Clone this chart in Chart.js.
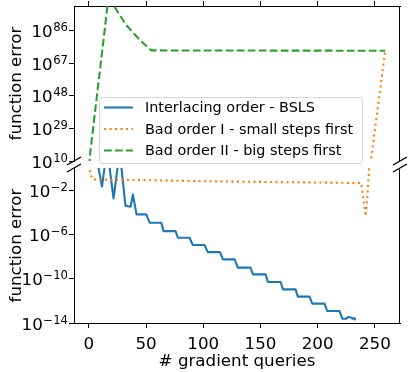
<!DOCTYPE html>
<html>
<head>
<meta charset="utf-8">
<script src="https://cdn.jsdelivr.net/npm/chart.js@4.4.1/dist/chart.umd.min.js"></script>
<style>
  html, body { margin: 0; padding: 0; background: #fff; }
  #wrap { position: relative; width: 410px; height: 372px; }
  #wrap canvas { position: absolute; left: 0; top: 0; }
</style>
</head>
<body>
<div id="wrap">
  <canvas id="bottomChart" width="410" height="372"></canvas>
  <canvas id="topChart" width="410" height="372"></canvas>
</div>
<script>
// legend names
const seriesNames = [
  'Interlacing order - BSLS',
  'Bad order I - small steps first',
  'Bad order II - big steps first'
];

// x = # gradient queries, y = log10(function error)
const bslsX = [0, 4, 11.5, 16, 21.6, 27, 32, 36.5, 38.5, 41.7, 50.2, 53.1, 63.3, 65.3, 75.8, 77.8, 88.0, 90.9,
  101.1, 104.0, 114.7, 117.1, 127.4, 130.2, 141.3, 143.4, 154.5, 156.5, 167.6, 169.6, 180.7, 182.7, 192.9,
  195.3, 206.0, 208.4, 219.1, 221.5, 225, 226.5, 229, 230.5, 232, 233];
const bslsLogErr = [0.3, 2.5, -1.67, 1.75, -2.75, 1.5, -3.4, -3.5, -2.39, -4.19, -4.19, -4.94, -4.94, -5.70, -5.70,
  -6.30, -6.30, -6.96, -6.96, -7.60, -7.60, -8.25, -8.25, -9.00, -9.00, -9.61, -9.61, -10.30, -10.30, -10.96,
  -10.96, -11.62, -11.62, -12.25, -12.25, -12.92, -12.92, -13.61, -13.61, -13.45, -13.5, -13.62, -13.55, -13.75];

const smallFirstX = [0, 1, 2, 3.5, 50, 97, 170, 238, 242, 243.5, 245, 246.5, 259];
const smallFirstLogErr = [0.3, -0.3, -0.7, -1.03, -1.1, -1.19, -1.28, -1.35, -4.35, -2.5, 0.0, 10, 74.3];

const bigFirstX = [0, 1, 17.5, 22.2, 26, 32.7, 40, 47.2, 54.5, 259];
const bigFirstLogErr = [0.3, 13.5, 107.2, 100.4, 96.1, 89.3, 83.9, 79.0, 74.5, 74.3];

// axes
const xTicks = [0, 50, 100, 150, 200, 250];
const topTickExp = [10, 29, 48, 67, 86];
const bottomTickExp = [-14, -10, -6, -2];
const xMin = -12.95, xMax = 271.95;

Chart.defaults.font.family = '"DejaVu Sans"';
Chart.defaults.font.size = 16.7;
Chart.defaults.color = '#000';

const toPoints = (xs, ls) => xs.map((x, i) => ({ x: x, y: Math.pow(10, ls[i]) }));

function makeDatasets() {
  return [
    { label: seriesNames[0], data: toPoints(bslsX, bslsLogErr), borderColor: '#1f77b4',
      borderWidth: 2.1, borderDash: [], order: 3, clip: 0 },
    { label: seriesNames[1], data: toPoints(smallFirstX, smallFirstLogErr), borderColor: '#ff7f0e',
      borderWidth: 2.1, borderDash: [2.1, 3.4], order: 2, clip: 0 },
    { label: seriesNames[2], data: toPoints(bigFirstX, bigFirstLogErr), borderColor: '#2ca02c',
      borderWidth: 2.1, borderDash: [7.7, 3.3], order: 1, clip: 0 }
  ];
}

const tickGrid = { drawOnChartArea: false, drawTicks: true, tickLength: 5, tickColor: '#000', tickWidth: 1 };
const spine = { display: true, color: '#000', width: 1 };

function line(ctx, x1, y1, x2, y2) {
  ctx.beginPath(); ctx.moveTo(x1, y1); ctx.lineTo(x2, y2); ctx.stroke();
}

// the // marks where the axis is cut
function breakMark(ctx, x, y) {
  ctx.lineWidth = 1.4;
  ctx.strokeStyle = '#000';
  line(ctx, x - 7, y + 4, x + 7, y - 4);
}

// 10^n labels with a real superscript
function powerLabels(chart, exps) {
  const ctx = chart.ctx, ys = chart.scales.y;
  const xRight = 68;
  ctx.fillStyle = '#000';
  ctx.textAlign = 'right';
  ctx.textBaseline = 'alphabetic';
  exps.forEach(e => {
    const py = ys.getPixelForValue(Math.pow(10, e));
    const sup = (e < 0 ? '\u2212' : '') + Math.abs(e);
    ctx.font = '11.7px "DejaVu Sans"';
    const w = ctx.measureText(sup).width;
    ctx.fillText(sup, xRight, py + 0.5);
    ctx.font = '16.7px "DejaVu Sans"';
    ctx.fillText('10', xRight - w - 0.5, py + 6.5);
  });
}

function drawLegend(chart) {
  const ctx = chart.ctx;
  const l = 99.5, t = 97.5, r = 362.5, b = 163.5, rad = 3;
  ctx.beginPath();
  ctx.moveTo(l + rad, t);
  ctx.arcTo(r, t, r, b, rad);
  ctx.arcTo(r, b, l, b, rad);
  ctx.arcTo(l, b, l, t, rad);
  ctx.arcTo(l, t, r, t, rad);
  ctx.closePath();
  ctx.fillStyle = 'rgba(255,255,255,0.8)';
  ctx.fill();
  ctx.strokeStyle = 'rgba(204,204,204,0.8)';
  ctx.lineWidth = 1;
  ctx.stroke();

  chart.data.datasets.forEach((ds, i) => {
    const cy = 107.5 + i * 21.5;
    ctx.save();
    ctx.setLineDash(ds.borderDash);
    ctx.lineCap = 'butt';
    ctx.strokeStyle = ds.borderColor;
    ctx.lineWidth = ds.borderWidth;
    line(ctx, 104, cy, 133, cy);
    ctx.restore();
    ctx.font = '14.4px "DejaVu Sans"';
    ctx.fillStyle = '#000';
    ctx.textAlign = 'left';
    ctx.textBaseline = 'alphabetic';
    ctx.fillText(ds.label, 145, cy + 4.8);
  });
}

const topDecor = {
  id: 'topDecor',
  afterDraw(chart) {
    const ctx = chart.ctx, a = chart.chartArea;
    ctx.save();
    ctx.strokeStyle = '#000';
    ctx.lineWidth = 1;
    line(ctx, a.right - 0.5, a.top, a.right - 0.5, a.bottom);
    breakMark(ctx, a.left, a.bottom);
    breakMark(ctx, a.right, a.bottom);
    powerLabels(chart, topTickExp);
    drawLegend(chart);
    ctx.restore();
  }
};

const bottomDecor = {
  id: 'bottomDecor',
  afterDraw(chart) {
    const ctx = chart.ctx, a = chart.chartArea;
    ctx.save();
    ctx.strokeStyle = '#000';
    ctx.lineWidth = 1;
    line(ctx, a.right - 0.5, a.top, a.right - 0.5, a.bottom);
    breakMark(ctx, a.left, a.top);
    breakMark(ctx, a.right, a.top);
    powerLabels(chart, bottomTickExp);
    ctx.restore();
  }
};

function xScale(pos, height, showLabels) {
  return {
    type: 'linear', position: pos, min: xMin, max: xMax,
    afterBuildTicks: s => { s.ticks = xTicks.map(v => ({ value: v })); },
    afterFit: s => { s.height = height; },
    ticks: { display: showLabels, padding: 7, maxRotation: 0, autoSkip: false },
    grid: tickGrid,
    border: spine,
    title: { display: showLabels, text: '# gradient queries', padding: { top: 0, bottom: 0 } }
  };
}

function yScale(min, max, exps) {
  return {
    type: 'logarithmic', min: min, max: max,
    afterBuildTicks: s => { s.ticks = exps.map(e => ({ value: Math.pow(10, e) })); },
    afterFit: s => { s.width = 74; },
    ticks: { display: false },
    grid: tickGrid,
    border: spine,
    title: { display: true, text: 'function error', padding: { top: 7, bottom: 0 } }
  };
}

function options(padding, x, y) {
  return {
    responsive: false,
    animation: false,
    events: [],
    layout: { padding: padding, autoPadding: false },
    plugins: { legend: { display: false }, tooltip: { enabled: false } },
    elements: { point: { radius: 0 }, line: { tension: 0, borderJoinStyle: 'round' } },
    scales: { x: x, y: y }
  };
}

new Chart(document.getElementById('bottomChart'), {
  type: 'line',
  data: { datasets: makeDatasets() },
  options: options({ left: 0, right: 10, top: 168, bottom: 0 },
    xScale('bottom', 49, true), yScale(1e-14, 1, bottomTickExp)),
  plugins: [bottomDecor]
});

new Chart(document.getElementById('topChart'), {
  type: 'line',
  data: { datasets: makeDatasets() },
  options: options({ left: 0, right: 10, top: 0, bottom: 211 },
    xScale('top', 6, false), yScale(1e10, 2.5e100, topTickExp)),
  plugins: [topDecor]
});
</script>
</body>
</html>
